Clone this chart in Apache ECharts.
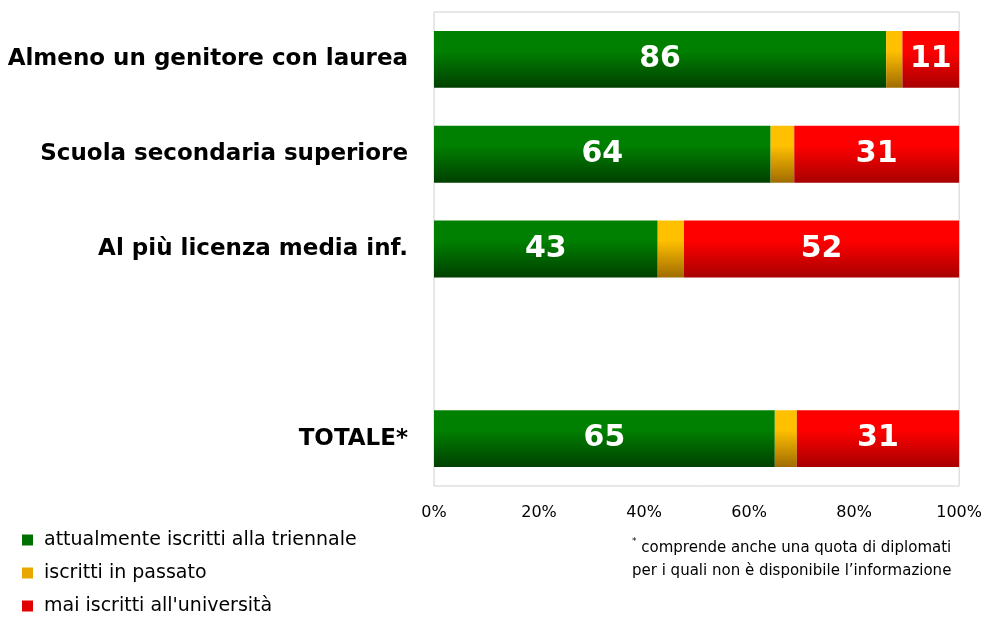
<!DOCTYPE html>
<html><head><meta charset="utf-8">
<script src="https://cdn.jsdelivr.net/npm/echarts@6/dist/echarts.min.js"></script>
<style>html,body{margin:0;padding:0;background:#fff}#c{width:985px;height:617px}</style>
</head><body><div id="c"></div>
<script>
const categories = ['Almeno un genitore con laurea', 'Scuola secondaria superiore', 'Al più licenza media inf.', '', 'TOTALE*'];
const attuali = [86.1, 64.1, 42.6, null, 64.9];
const passato = [3.1, 4.5, 5.0, null, 4.2];
const mai = [10.8, 31.4, 52.4, null, 30.9];
const xTicks = [0, 20, 40, 60, 80, 100];
const seriesNames = ['attualmente iscritti alla triennale', 'iscritti in passato', "mai iscritti all'università"];
const footnote = ['comprende anche una quota di diplomati', 'per i quali non è disponibile l\u2019informazione'];

const FONT = 'DejaVu Sans';
function grad(top, bottom) {
  return new echarts.graphic.LinearGradient(0, 0, 0, 1, [
    {offset: 0, color: top}, {offset: 0.35, color: top}, {offset: 1, color: bottom}
  ]);
}
const colors = [grad('#008000', '#004000'), grad('#ffc000', '#a06c00'), grad('#ff0000', '#a80000')];
const legendColors = ['#007000', '#e8a800', '#e00000'];

const chart = echarts.init(document.getElementById('c'));
const lbl = {
  show: true, position: 'inside', color: '#fff', fontFamily: FONT, fontWeight: 'bold', fontSize: 30,
  formatter: p => Math.round(p.value)
};
function mk(name, data, i, showLabel) {
  return {
    name, type: 'bar', stack: 'a', data, barCategoryGap: '40%',
    itemStyle: {color: colors[i]},
    label: showLabel ? lbl : {show: false},
    emphasis: {disabled: true}
  };
}
chart.setOption({
  animation: false,
  grid: {left: 434, right: 23, top: 12, bottom: 131, show: true, borderColor: '#d0d0d0', borderWidth: 1, containLabel: false},
  xAxis: {
    type: 'value', min: 0, max: 100, interval: 20,
    axisLine: {show: false}, axisTick: {show: false}, splitLine: {show: false},
    axisLabel: {formatter: v => xTicks.includes(v) ? v + '%' : '', fontFamily: FONT, fontSize: 16, color: '#000', margin: 19}
  },
  yAxis: {
    type: 'category', data: categories, inverse: true,
    axisLine: {show: false}, axisTick: {show: false},
    axisLabel: {fontFamily: FONT, fontWeight: 'bold', fontSize: 23, color: '#000', margin: 26}
  },
  legend: {
    orient: 'vertical', left: 22, top: 530, padding: 0, itemGap: 13, itemWidth: 11, itemHeight: 11, icon: 'rect',
    textStyle: {fontFamily: FONT, fontSize: 19, lineHeight: 20, color: '#000', padding: [0, 0, 0, 6]},
    data: seriesNames.map((n, i) => ({name: n, itemStyle: {color: legendColors[i]}}))
  },
  graphic: [{
    type: 'text', left: 632, top: 537,
    style: {
      text: '{s|*} ' + footnote[0] + '\n' + footnote[1],
      fontFamily: FONT, fontSize: 15, lineHeight: 23, fill: '#000',
      rich: {s: {fontSize: 9, fontFamily: FONT, verticalAlign: 'top', lineHeight: 23, padding: [0, 0, 8, 0]}}
    }
  }],
  series: [mk(seriesNames[0], attuali, 0, true), mk(seriesNames[1], passato, 1, false), mk(seriesNames[2], mai, 2, true)]
});
</script></body></html>
